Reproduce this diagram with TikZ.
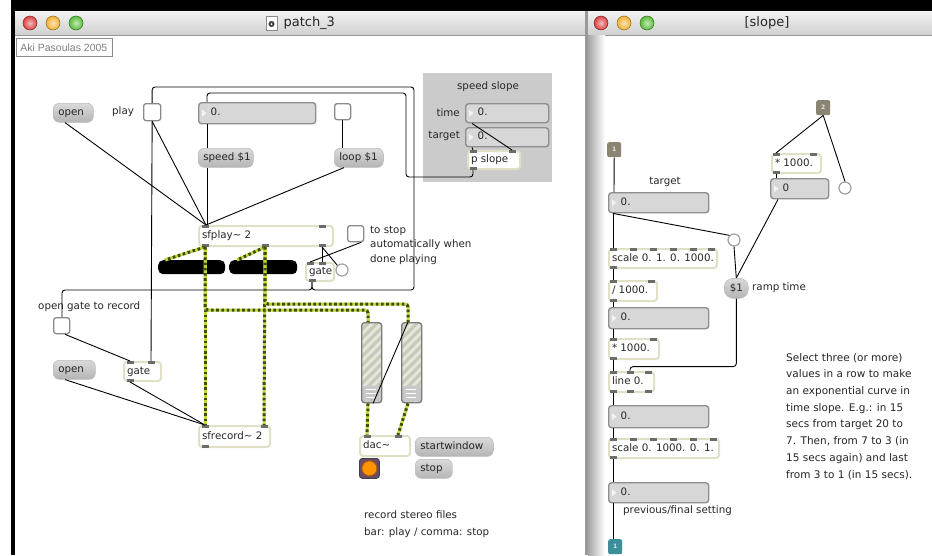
\documentclass[tikz,border=0pt]{standalone}
\usepackage{fontspec}
\setmainfont{DejaVu Sans}
\newfontfamily\akifont{Liberation Sans}
\usetikzlibrary{calc}

\definecolor{msgtop}{HTML}{DADADA}
\definecolor{msgbot}{HTML}{B4B4B4}
\definecolor{msgedge}{HTML}{BDBDBD}
\definecolor{objedge}{HTML}{E0E0C6}
\definecolor{numfill}{HTML}{D7D7D7}
\definecolor{numedge}{HTML}{8E8E8E}
\definecolor{portc}{HTML}{6C6C6C}
\definecolor{sigbase}{HTML}{C4DA3A}
\definecolor{sigdot}{HTML}{3C4E0E}
\definecolor{ink}{HTML}{262626}
\definecolor{panelgray}{HTML}{CBCBCB}
\definecolor{togedge}{HTML}{8A8A8A}
\definecolor{inletc}{HTML}{8A8473}
\definecolor{outletc}{HTML}{3D8E98}
\definecolor{titletop}{HTML}{F2F2F2}
\definecolor{titlebot}{HTML}{D0D0D0}
\definecolor{sldedge}{HTML}{7A7A7A}
\definecolor{sldfill}{HTML}{E6E6DE}
\definecolor{sldstripe}{HTML}{C6CAB6}
\definecolor{sldknob}{HTML}{C8C8C8}
\definecolor{lred}{HTML}{DC4040}
\definecolor{lyel}{HTML}{F0B030}
\definecolor{lgrn}{HTML}{58BC38}

\tikzset{
  maxtext/.style={font=\fontsize{10.3}{12}\selectfont, text=ink},
  msg/.style={maxtext, rounded corners=6pt, top color=msgtop, bottom color=msgbot,
    draw=msgedge, line width=0.6pt, inner xsep=0pt, inner ysep=0pt,
    text height=7.5pt, text depth=2pt, anchor=north west},
  objbox/.style={maxtext, fill=white, draw=objedge, line width=2pt, rounded corners=3pt,
    inner xsep=0pt, inner ysep=0pt, text height=7.5pt, text depth=2pt, anchor=north west},
  numbox/.style={maxtext, fill=numfill, draw=numedge, line width=1.4pt, rounded corners=3pt,
    inner xsep=0pt, inner ysep=0pt, text height=7.5pt, text depth=2pt, anchor=north west},
  toggle/.style={fill=white, draw=togedge, line width=1.3pt, rounded corners=2.5pt,
    inner sep=0pt, anchor=north west},
  bang/.style={circle, fill=white, draw=togedge!80, line width=1.2pt, inner sep=0pt,
    minimum size=12pt},
  cmt/.style={maxtext, inner sep=0pt, anchor=west},
  cord/.style={draw=black, line width=0.9pt, rounded corners=3pt},
  sig/.style={draw=sigdot, line width=3pt, dash pattern=on 2.6pt off 2.6pt,
    rounded corners=3pt, preaction={draw=sigbase, line width=3pt, solid}},
  meterbar/.style={fill=black, rounded corners=5pt, minimum height=14pt, inner sep=0pt,
    anchor=north west},
  slider/.style={draw=sldedge, line width=1.4pt, rounded corners=3pt, fill=sldfill,
    minimum width=20pt, minimum height=80pt, inner sep=0pt, anchor=north west,
    path picture={
      \foreach \k in {-100,-91,...,30}
        \draw[sldstripe, line width=3.2pt]
          ([xshift=\k pt]path picture bounding box.south west) -- ++(110,-110);
      \fill[sldknob] ([yshift=1pt]path picture bounding box.south west)
        rectangle ([yshift=17pt]path picture bounding box.south east);
      \foreach \h in {5,9,13}
        \draw[white, line width=1pt]
          ([xshift=4pt,yshift=\h pt]path picture bounding box.south west) -- ++(10,0);
    }},
  ezdac/.style={fill=black!45!violet!40!gray, draw=black!50!gray, line width=0.8pt,
    rounded corners=3pt, minimum size=20pt, inner sep=0pt, anchor=north west,
    path picture={
      \filldraw[draw=orange!70!black, fill=orange!85!yellow]
        (path picture bounding box.center) circle (7.5);
    }},
  portbox/.style={rounded corners=2pt, minimum width=14pt, minimum height=15pt,
    inner sep=0pt, anchor=north west, font=\fontsize{6}{7}\selectfont\bfseries},
}

% object box with left-aligned text: style, name, x, y, width, height, text
\newcommand\mxbox[7]{\node[#1, minimum height=#6pt] (#2) at (#3,#4)
  {\makebox[#5pt][l]{\hspace{3pt}#7}};}
% message box: name, x, y, width, height, text
\newcommand\mxmsg[6]{\node[msg, minimum height=#5pt] (#1) at (#2,#3)
  {\makebox[#4pt][l]{\hspace{5pt}#6}};}
% inlet / outlet marks on the top and bottom edges of a box
\newcommand\mxtop[2]{\fill[portc] ([xshift=#2pt]#1.north west) ++(-3.5,0) rectangle ++(7,2.6);}
\newcommand\mxbot[2]{\fill[portc] ([xshift=#2pt]#1.south west) ++(-3.5,0) rectangle ++(7,-2.6);}
% small arrow of a number box
\newcommand\mxtri[1]{\fill[white!70!numfill] ([xshift=4pt]#1.west) ++(0,-3.5)
  -- ++(4.5,3.5) -- ++(-4.5,3.5) -- cycle;}
% window buttons
\newcommand\winlights[2]{%
  \shadedraw[draw=lred!60!black, line width=0.5pt, inner color=lred!35!white, outer color=lred] (#1,#2) circle (7);
  \shadedraw[draw=lyel!60!black, line width=0.5pt, inner color=lyel!35!white, outer color=lyel] (#1+23,#2) circle (7);
  \shadedraw[draw=lgrn!60!black, line width=0.5pt, inner color=lgrn!35!white, outer color=lgrn] (#1+46,#2) circle (7);}

\begin{document}
\begin{tikzpicture}[x=1pt,y=-1pt]
\useasboundingbox (0,0) rectangle (932,555);

% ---------- screen and windows ----------
\fill[white] (0,0) rectangle (932,555);
\fill[black] (11,0) rectangle (932,11);
\fill[black] (11,0) rectangle (15,555);
\shade[top color=titletop, bottom color=titlebot] (15,11) rectangle (586,35);
\draw[black!40, line width=0.8pt] (15,35) -- (586,35);
\shade[top color=titletop, bottom color=titlebot] (588,11) rectangle (932,35);
\draw[black!40, line width=0.8pt] (588,35) -- (932,35);
\fill[black!40] (585,11) rectangle (588,555);
\shade[left color=black!35, right color=white] (588,35.4) rectangle (605,555);

\winlights{30}{23}
\winlights{601}{23}
\filldraw[fill=white, draw=black!45, line width=0.6pt] (266,16) rectangle (277,30);
\filldraw[fill=black!75, draw=black!75] (271.5,24) circle (2.8);
\fill[white] (271.5,24) circle (1);
\node[font=\fontsize{13}{15}\selectfont, text=ink, anchor=west] (title1) at (280,23) {patch\_3};
\node[font=\fontsize{13}{15}\selectfont, text=ink] (title2) at (767,23) {[slope]};

\node[draw=black!45, fill=white, line width=0.7pt, inner sep=0pt, minimum width=96pt,
  minimum height=18pt, anchor=north west, font=\akifont\fontsize{10.5}{12}\selectfont,
  text=black!50] (aki) at (15.5,38) {Aki Pasoulas 2005};

% ---------- patch_3 ----------
\fill[panelgray] (423,73) rectangle (552,182);
\node[maxtext] (sslabel) at (488,87) {speed slope};
\node[cmt, anchor=east] (timelbl) at (460,113) {time};
\node[cmt, anchor=east] (targlbl) at (460,136) {target};
\mxbox{numbox}{timenum}{465}{103}{83}{19}{\hspace{9pt}0.}
\mxbox{numbox}{targnum}{465}{127}{83}{19}{\hspace{9pt}0.}
\mxtri{timenum}\mxtri{targnum}
\mxbox{objbox}{pslope}{467}{150}{52}{18}{p slope}
\mxtop{pslope}{6}\mxtop{pslope}{45}\mxbot{pslope}{6}

\mxmsg{openA}{53}{103}{40}{19}{open}
\node[cmt] (playlbl) at (112,112) {play};
\node[toggle, minimum size=17pt] (playtog) at (143,103) {};
\mxbox{numbox}{numA}{198}{102}{117}{21}{\hspace{9pt}0.}
\mxtri{numA}
\node[toggle, minimum size=16pt] (looptog) at (334,103) {};
\mxmsg{speedmsg}{198}{148}{55}{19}{speed \$1}
\mxmsg{loopmsg}{334}{148}{49}{19}{loop \$1}

\mxbox{objbox}{sfplay}{198}{225}{134}{20}{sfplay\textasciitilde\ 2}
\mxtop{sfplay}{7}\mxtop{sfplay}{124}
\mxbot{sfplay}{7}\mxbot{sfplay}{67}\mxbot{sfplay}{124}
\node[toggle, minimum size=16pt] (stoptog) at (347,225) {};
\node[cmt, anchor=north west, align=left, font=\fontsize{10.3}{14.5}\selectfont]
  (stopnote) at (370,226) {to stop\\automatically when\\done playing};
\node[meterbar, minimum width=67pt] (barA) at (158,260) {};
\node[meterbar, minimum width=68pt] (barB) at (229,260) {};
\mxbox{objbox}{gateA}{305}{262}{28}{18}{gate}
\mxtop{gateA}{5}\mxtop{gateA}{17}\mxbot{gateA}{7}
\node[bang] (bangA) at (342,270) {};

\node[cmt] (gatenote) at (38,307) {open gate to record};
\node[toggle, minimum size=16pt] (rectog) at (53,317) {};
\mxmsg{openB}{53}{360}{42}{19}{open}
\mxbox{objbox}{gateB}{123}{361}{37}{19}{gate}
\mxtop{gateB}{7}\mxtop{gateB}{28}\mxbot{gateB}{7}
\mxbox{objbox}{sfrec}{198}{425}{71}{21}{sfrecord\textasciitilde\ 2}
\mxtop{sfrec}{7}\mxtop{sfrec}{66}\mxbot{sfrec}{7}

\node[slider] (slA) at (361,322) {};
\node[slider] (slB) at (401,322) {};
\mxbox{objbox}{dac}{359}{435}{50}{20}{dac\textasciitilde}
\mxtop{dac}{8}\mxtop{dac}{39}
\node[ezdac] (ezdac) at (359,458) {};
\mxmsg{startmsg}{415}{437}{78}{19}{startwindow}
\mxmsg{stopmsg}{415}{459}{37}{19}{stop}
\node[cmt] (rec1) at (364,515) {record stereo files};
\node[cmt] (rec2) at (364,533) {bar: play / comma: stop};

% control cords
\draw[cord] ([xshift=12pt]openA.south west) -- ([xshift=8pt]sfplay.north west);
\draw[cord] (playtog.south) -- ([xshift=8pt]sfplay.north west);
\draw[cord] ([xshift=9pt]numA.south west) -- ([xshift=9pt]speedmsg.north west);
\draw[cord] ([xshift=9pt]speedmsg.south west) -- ([xshift=9pt]sfplay.north west);
\draw[cord] (looptog.south) -- (looptog.south |- loopmsg.north);
\draw[cord] ([xshift=10pt]loopmsg.south west) -- ([xshift=8pt]sfplay.north west);
\draw[cord] ([xshift=6pt]pslope.south west) -- ++(0,7) -| (406,93) -| ([xshift=9pt]numA.north west);
\draw[cord] ([xshift=7pt]timenum.south west) -- ([xshift=45pt]pslope.north west);
\draw[cord] ([xshift=7pt]targnum.south west) -- ([xshift=6pt]pslope.north west);
\draw[cord] ([xshift=7pt]gateA.south west) -- ++(0,8) -| (414,87) -| (playtog.north);
\draw[cord] ([xshift=7pt]gateA.south west) -- ++(0,8) -| ([xshift=9pt]rectog.north west);
\draw[cord] ([xshift=124pt]sfplay.south west) -- ([xshift=17pt]gateA.north west);
\draw[cord] ([xshift=124pt]sfplay.south west) -- (bangA.north west);
\draw[cord] ([xshift=-3pt]stoptog.south east) -- ([xshift=5pt]gateA.north west);
\draw[cord] (playtog.south) -- ([xshift=28pt]gateB.north west);
\draw[cord] ([xshift=12pt]rectog.south west) -- ([xshift=7pt]gateB.north west);
\draw[cord] ([xshift=12pt]openB.south west) -- ([xshift=7pt]sfrec.north west);
\draw[cord] ([xshift=7pt]gateB.south west) -- ([xshift=7pt]sfrec.north west);
\draw[cord] ([xshift=12pt]slA.south west) -- ([xshift=7pt]slB.north west);

% signal cords
\draw[sig] ([xshift=7pt]sfplay.south west) -- ([xshift=7pt]barA.north west);
\draw[sig] ([xshift=67pt]sfplay.south west) -- ([xshift=8pt]barB.north west);
\draw[sig] ([xshift=7pt]sfplay.south west) -- ([xshift=7pt]sfrec.north west);
\draw[sig] ([xshift=67pt]sfplay.south west) -- ([xshift=66pt]sfrec.north west);
\draw[sig] ([xshift=7pt]sfplay.south west) -- ++(0,63) -| ([xshift=7pt]slA.north west);
\draw[sig] ([xshift=67pt]sfplay.south west) -- ++(0,57) -| ([xshift=7pt]slB.north west);
\draw[sig] ([xshift=7pt]slA.south west) -- ([xshift=8pt]dac.north west);
\draw[sig] ([xshift=7pt]slB.south west) -- ([xshift=39pt]dac.north west);

% ---------- [slope] ----------
\node[portbox, fill=inletc, text=white!80!inletc] (inA) at (607,142) {1};
\node[portbox, fill=inletc, text=white!80!inletc] (inB) at (816,100) {2};
\mxbox{objbox}{mulA}{771}{153}{49}{19}{* 1000.}
\mxtop{mulA}{5}\mxtop{mulA}{42}\mxbot{mulA}{5}
\mxbox{numbox}{numZ}{770}{178}{58}{20}{\hspace{9pt}0}
\mxtri{numZ}
\node[bang] (bangR) at (845,188) {};
\node[maxtext] (targR) at (665,182) {target};
\mxbox{numbox}{targbox}{608}{192}{100}{20}{\hspace{9pt}0.}
\mxtri{targbox}
\node[bang] (bangT) at (734,240) {};
\mxbox{objbox}{scaleA}{608}{248}{108}{19}{scale 0. 1. 0. 1000.}
\foreach \p in {5,25,45,65,85,103} {\mxtop{scaleA}{\p}}
\mxbot{scaleA}{5}
\mxbox{objbox}{divA}{608}{280}{48}{20}{/ 1000.}
\mxtop{divA}{5}\mxtop{divA}{43}\mxbot{divA}{5}
\mxbox{numbox}{numB}{608}{307}{100}{21}{\hspace{9pt}0.}
\mxtri{numB}
\mxbox{objbox}{mulB}{608}{338}{50}{20}{* 1000.}
\mxtop{mulB}{5}\mxtop{mulB}{45}\mxbot{mulB}{5}
\node[msg, rounded corners=9pt, minimum width=24pt, minimum height=20pt] (dollar)
  at (724,278) {\$1};
\node[cmt] (ramp) at (752,288) {ramp time};
\mxbox{objbox}{lineA}{608}{371}{45}{20}{line 0.}
\foreach \p in {5,22,40} {\mxtop{lineA}{\p}\mxbot{lineA}{\p}}
\mxbox{numbox}{numC}{608}{405}{100}{22}{\hspace{9pt}0.}
\mxtri{numC}
\mxbox{objbox}{scaleB}{608}{438}{110}{19}{scale 0. 1000. 0. 1.}
\foreach \p in {5,25,45,65,85,105} {\mxtop{scaleB}{\p}}
\mxbot{scaleB}{5}
\mxbox{numbox}{numD}{608}{482}{100}{20}{\hspace{9pt}0.}
\mxtri{numD}
\node[cmt] (prevlbl) at (623,511) {previous/final setting};
\node[portbox, fill=outletc, text=white!80!outletc] (outA) at (608,539) {1};
\node[cmt, anchor=north west, align=left, font=\fontsize{10.5}{16.7}\selectfont]
  (howto) at (786,353) {Select three (or more)\\values in a row to make\\an exponential curve in\\time slope. E.g.: in 15\\secs from target 20 to\\7. Then, from 7 to 3 (in\\15 secs again) and last\\from 3 to 1 (in 15 secs).};

\draw[cord] (inA.south) -- ([xshift=6pt]targbox.north west);
\draw[cord] ([xshift=5pt]targbox.south west) -- ([xshift=5pt]scaleA.north west);
\draw[cord] ([xshift=5pt]targbox.south west) -- (bangT.north west);
\draw[cord] (bangT.south) -- (dollar.north);
\draw[cord] (inB.south) -- ([xshift=5pt]mulA.north west);
\draw[cord] (inB.south) -- (bangR.north);
\draw[cord] ([xshift=5pt]mulA.south west) -- ([xshift=6pt]numZ.north west);
\draw[cord] ([xshift=8pt]numZ.south west) -- (dollar.north);
\draw[cord] (dollar.south) -- ++(0,68) -| ([xshift=22pt]lineA.north west);
\draw[cord] ([xshift=5pt]scaleA.south west) -- ([xshift=5pt]divA.north west);
\draw[cord] ([xshift=5pt]divA.south west) -- ([xshift=5pt]numB.north west);
\draw[cord] ([xshift=5pt]numB.south west) -- ([xshift=5pt]mulB.north west);
\draw[cord] ([xshift=5pt]mulB.south west) -- ([xshift=5pt]lineA.north west);
\draw[cord] ([xshift=5pt]lineA.south west) -- ([xshift=5pt]numC.north west);
\draw[cord] ([xshift=5pt]numC.south west) -- ([xshift=5pt]scaleB.north west);
\draw[cord] ([xshift=5pt]scaleB.south west) -- ([xshift=5pt]numD.north west);
\draw[cord] ([xshift=5pt]numD.south west) -- ([xshift=5pt]outA.north west);
\end{tikzpicture}
\end{document}
